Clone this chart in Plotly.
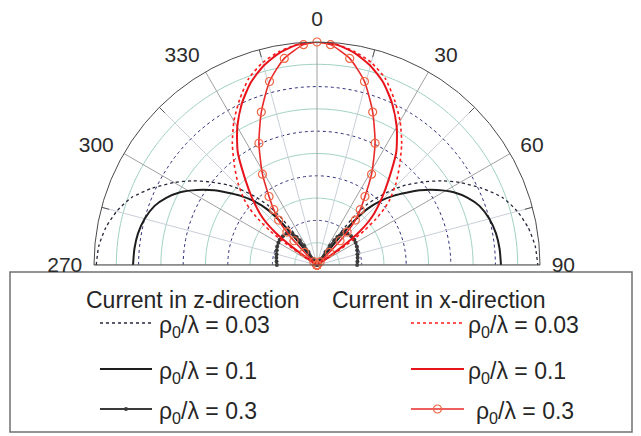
import numpy as np
import plotly.graph_objects as go

# Radiation patterns, one half (0 = broadside/top, 90 = horizon); the other half is mirrored.
# Radial values on a 0-10 scale (10 = outer ring).

# Current in z-direction
z003_theta = [0, 34, 35, 36, 37.5, 39.5, 42, 45, 48, 52, 56, 60, 65, 70, 75, 80, 85, 90]
z003_r = [0, 0, 0.8, 1.8, 2.8, 3.5, 4.1, 4.75, 5.35, 6.05, 6.75, 7.4, 8.15, 8.85, 9.3, 9.62, 9.82, 9.9]

z01_theta = [0, 37, 38, 39, 40, 42, 45, 48, 51, 54, 58, 62, 66, 70, 75, 80, 85, 90]
z01_r = [0, 0, 0.6, 1.5, 2.5, 3.4, 4.1, 4.65, 5.15, 5.7, 6.35, 6.95, 7.4, 7.75, 8.0, 8.15, 8.22, 8.25]

z03_theta = [0, 31, 32, 33, 34, 35, 36, 38, 40, 44, 50, 56, 60, 65, 70, 75, 80, 85, 90]
z03_r = [0, 0, 0.3, 0.7, 1.05, 1.35, 1.55, 1.78, 1.88, 1.96, 2.0, 2.02, 2.0, 1.97, 1.92, 1.88, 1.85, 1.82, 1.8]

# Current in x-direction
x003_theta = [0, 5, 10, 15, 20, 25, 30, 35, 40, 44, 48, 50, 52, 54, 55, 56, 57, 58, 59, 90]
x003_r = [10, 9.93, 9.72, 9.4, 8.92, 8.2, 7.45, 6.62, 5.75, 5.1, 4.4, 3.95, 3.35, 2.6, 2.0, 1.35, 0.7, 0.2, 0, 0]

x01_theta = [0, 5, 10, 15, 20, 25, 30, 35, 40, 44, 48, 50, 52, 53, 54, 55, 56, 57, 90]
x01_r = [10, 9.92, 9.66, 9.25, 8.7, 7.98, 7.15, 6.2, 5.0, 4.2, 3.45, 3.0, 2.4, 1.95, 1.4, 0.75, 0.15, 0, 0]

x03_theta = [0, 3.5, 9, 14.5, 20, 25.5, 31, 35, 38, 40.5, 42.5, 43.5, 44.5, 45.5, 50, 55, 60, 65, 70, 75, 80, 85, 90]
x03_r = [10, 9.9, 9.38, 8.5, 7.3, 6.05, 4.75, 3.75, 3.15, 2.65, 2.0, 1.5, 0.8, 0.2, 0, 0, 0, 0, 0, 0, 0, 0, 0]

# angular ticks (negative values sit on the left half and read 270/300/330)
angle_ticks = [-90, -60, -30, 0, 30, 60, 90]
angle_labels = ["270", "300", "330", "0", "30", "60", "90"]
legend_values = ["0.03", "0.1", "0.3"]

W, H = 641, 436
FONT = "Liberation Sans, Arial, sans-serif"


def both_sides(theta, r):
    """Mirror a half pattern so it spans -90..90."""
    th = [-t for t in theta[::-1]] + list(theta[1:])
    rr = list(r[::-1]) + list(r[1:])
    return th, rr


def px(x):
    return x / W


def py(y):
    return 1 - y / H


fig = go.Figure()

# ---- polar grid ----
arc = np.arange(-90, 90.5, 1.0)
for k in range(1, 10):
    dotted = k % 2 == 0
    fig.add_trace(go.Scatterpolar(
        theta=arc, r=np.full(arc.shape, k), mode="lines",
        line=dict(color="#2e2e78" if dotted else "#9fd0c1", width=1,
                  dash="dot" if dotted else "solid"),
        hoverinfo="skip", showlegend=False))
for a in (-75, -45, -15, 15, 45, 75):
    fig.add_trace(go.Scatterpolar(theta=[a, a], r=[0, 10], mode="lines",
                                  line=dict(color="#c9ced8", width=1),
                                  hoverinfo="skip", showlegend=False))
    fig.add_trace(go.Scatterpolar(theta=[a, a], r=[9.65, 10], mode="lines",
                                  line=dict(color="#555555", width=1),
                                  hoverinfo="skip", showlegend=False))
for a in (-90, -60, -30, 0, 30, 60, 90):
    fig.add_trace(go.Scatterpolar(theta=[a, a], r=[0, 10], mode="lines",
                                  line=dict(color="#a0a0a0", width=1),
                                  hoverinfo="skip", showlegend=False))

# ---- pattern curves ----
styles = {
    "z003": dict(line=dict(color="#26263a", width=1.3, dash="dot")),
    "z01": dict(line=dict(color="#1e1e1e", width=2)),
    "z03": dict(line=dict(color="#3a3a3a", width=1.8),
                marker=dict(symbol="circle", size=4, color="#3a3a3a")),
    "x003": dict(line=dict(color="#ff1a1a", width=1.6, dash="dot")),
    "x01": dict(line=dict(color="#e8141c", width=2)),
    "x03": dict(line=dict(color="#e82a2a", width=1.6),
                marker=dict(symbol="circle-open", size=8, color="#f06644",
                            line=dict(width=1.2))),
}
curves = [
    ("z003", z003_theta, z003_r), ("z01", z01_theta, z01_r), ("z03", z03_theta, z03_r),
    ("x003", x003_theta, x003_r), ("x01", x01_theta, x01_r), ("x03", x03_theta, x03_r),
]
for key, th, rr in curves:
    t2, r2 = both_sides(th, rr)
    st = styles[key]
    fig.add_trace(go.Scatterpolar(
        theta=t2, r=r2, mode="lines+markers" if "marker" in st else "lines",
        line=dict(shape="spline", smoothing=0.6, **st["line"]),
        marker=st.get("marker"), hoverinfo="skip", showlegend=False))

fig.update_layout(
    width=W, height=H,
    margin=dict(l=0, r=0, t=0, b=0),
    paper_bgcolor="white", plot_bgcolor="rgba(0,0,0,0)",
    showlegend=False, hovermode=False,
    polar=dict(
        domain=dict(x=[px(94), px(540)], y=[py(265), py(42)]),
        sector=[0, 180],
        bgcolor="white",
        radialaxis=dict(range=[0, 10], visible=False),
        angularaxis=dict(
            rotation=90, direction="clockwise",
            tickmode="array", tickvals=angle_ticks, ticktext=angle_labels,
            ticks="outside", ticklen=7, tickcolor="rgba(0,0,0,0)",
            tickfont=dict(family=FONT, size=21, color="#2b2b2b"),
            showline=True, linecolor="#4a4a4a", linewidth=1,
            showgrid=False,
        ),
    ),
    xaxis=dict(domain=[0, 1], range=[0, W], visible=False, fixedrange=True),
    yaxis=dict(domain=[0, 1], range=[H, 0], visible=False, fixedrange=True),
)

# ---- legend box ----
fig.add_shape(type="rect", xref="paper", yref="paper",
              x0=px(10), x1=px(632), y0=py(432), y1=py(272),
              line=dict(color="#707070", width=1.5), fillcolor="white", layer="below")

txt = dict(family=FONT, size=23, color="#262626")
fig.add_annotation(x=px(84), y=py(300), xref="paper", yref="paper", text="Current in z-direction",
                   showarrow=False, xanchor="left", yanchor="middle", font=txt)
fig.add_annotation(x=px(330), y=py(300), xref="paper", yref="paper", text="Current in x-direction",
                   showarrow=False, xanchor="left", yanchor="middle", font=txt)

row_y = [323, 369, 409]
z_keys = ["z003", "z01", "z03"]
x_keys = ["x003", "x01", "x03"]
x_text_left = [466, 466, 474]
for i, val in enumerate(legend_values):
    label = "\u03c1<sub>0</sub>/\u03bb = " + val
    fig.add_annotation(x=px(157), y=py(row_y[i] + 3), xref="paper", yref="paper", text=label,
                       showarrow=False, xanchor="left", yanchor="middle", font=txt)
    fig.add_annotation(x=px(x_text_left[i]), y=py(row_y[i] + 3), xref="paper", yref="paper",
                       text=label, showarrow=False, xanchor="left", yanchor="middle", font=txt)
    for key, x0, x1 in ((z_keys[i], 100, 152), (x_keys[i], 411, 464)):
        st = styles[key]
        fig.add_trace(go.Scatter(x=[x0, x1], y=[row_y[i], row_y[i]], mode="lines",
                                 line=st["line"], hoverinfo="skip", showlegend=False))
        if "marker" in st:
            fig.add_trace(go.Scatter(x=[(x0 + x1) / 2], y=[row_y[i]], mode="markers",
                                     marker=st["marker"], hoverinfo="skip", showlegend=False))

fig.write_html("out.html")
